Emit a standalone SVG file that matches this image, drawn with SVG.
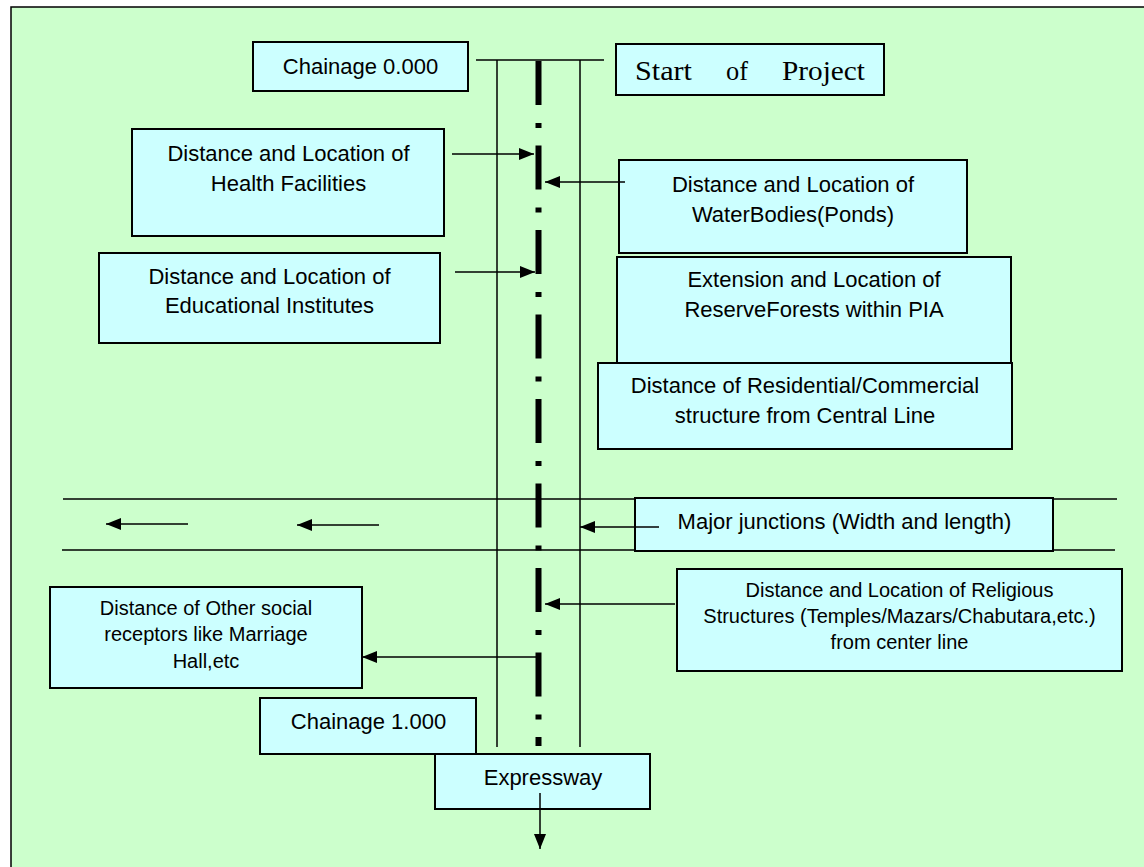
<svg xmlns="http://www.w3.org/2000/svg" width="1144" height="867" viewBox="0 0 1144 867">
<style>
.box{fill:#CCFFFF;stroke:#000;stroke-width:2}
.t{font-family:"Liberation Sans",Arial,sans-serif;font-size:22px;fill:#000;text-anchor:middle}
.s{font-size:20px}
.ln{stroke:#000;stroke-width:1.5;fill:none}
.ar{stroke:#000;stroke-width:1.5;fill:none;marker-end:url(#ah)}
.serif{font-family:"Liberation Serif","Times New Roman",serif;font-size:27px;fill:#000}
</style>
<defs>
<marker id="ah" markerUnits="userSpaceOnUse" markerWidth="16" markerHeight="13" refX="15" refY="6" orient="auto">
<path d="M0,0 L15,6 L0,12 z" fill="#000"/>
</marker>
</defs>
<rect x="11" y="7" width="1150" height="880" fill="#CCFFCC" stroke="#000" stroke-width="1.5"/>
<g id="road">
<line class="ln" x1="476" y1="60" x2="604" y2="60"/>
<line class="ln" x1="497" y1="60" x2="497" y2="747"/>
<line class="ln" x1="580" y1="60" x2="580" y2="747"/>
<line class="ln" x1="63" y1="499" x2="1117" y2="499"/>
<line class="ln" x1="62" y1="550" x2="1115" y2="550"/>
<line x1="538.5" y1="61" x2="538.5" y2="746" stroke="#000" stroke-width="6" stroke-dasharray="44 18 5 17.5"/>
</g>
<g id="n-chainage0"><rect class="box" x="253" y="42" width="215" height="49"/><text class="t" x="360.5" y="74">Chainage 0.000</text></g>
<g id="n-start"><rect class="box" x="616" y="44" width="268" height="51"/>
<text class="serif" x="635" y="80" textLength="57" lengthAdjust="spacingAndGlyphs">Start</text>
<text class="serif" x="726" y="80" textLength="22" lengthAdjust="spacingAndGlyphs">of</text>
<text class="serif" x="782" y="80" textLength="83" lengthAdjust="spacingAndGlyphs">Project</text></g>
<g id="n-health"><rect class="box" x="132" y="129" width="312" height="107"/><text class="t" x="288.5" y="161">Distance and Location of</text><text class="t" x="288.5" y="191">Health Facilities</text></g>
<g id="n-water"><rect class="box" x="619" y="160" width="348" height="93"/><text class="t" x="793" y="192">Distance and Location of</text><text class="t" x="793" y="222">WaterBodies(Ponds)</text></g>
<g id="n-edu"><rect class="box" x="99" y="253" width="341" height="90"/><text class="t" x="269.5" y="284">Distance and Location of</text><text class="t" x="269.5" y="313">Educational Institutes</text></g>
<g id="n-forest"><rect class="box" x="617" y="257" width="394" height="106"/><text class="t" x="814" y="287">Extension and Location of</text><text class="t" x="814" y="317">ReserveForests within PIA</text></g>
<g id="n-residential"><rect class="box" x="598" y="363" width="414" height="86"/><text class="t" x="805" y="393">Distance of Residential/Commercial</text><text class="t" x="805" y="423">structure from Central Line</text></g>
<g id="n-junction"><rect class="box" x="635" y="498" width="418" height="53"/><text class="t" x="844.5" y="529">Major junctions (Width and length)</text></g>
<g id="n-religious"><rect class="box" x="677" y="569" width="445" height="102"/><text class="t s" x="899.5" y="597">Distance and Location of Religious</text><text class="t s" x="899.5" y="623">Structures (Temples/Mazars/Chabutara,etc.)</text><text class="t s" x="899.5" y="649">from center line</text></g>
<g id="n-social"><rect class="box" x="50" y="587" width="312" height="101"/><text class="t s" x="206" y="615">Distance of Other social</text><text class="t s" x="206" y="641">receptors like Marriage</text><text class="t s" x="206" y="668">Hall,etc</text></g>
<g id="n-chainage1"><rect class="box" x="260" y="698" width="216" height="56"/><text class="t" x="368.5" y="729">Chainage 1.000</text></g>
<g id="n-expressway"><rect class="box" x="435" y="754" width="215" height="55"/><text class="t" x="543" y="785">Expressway</text></g>
<g id="connectors">
<line class="ar" x1="452" y1="154" x2="534" y2="154"/>
<line class="ar" x1="455" y1="272" x2="535" y2="272"/>
<line class="ar" x1="625" y1="182" x2="545" y2="182"/>
<line class="ar" x1="659" y1="527" x2="580" y2="527"/>
<line class="ar" x1="675" y1="604" x2="545" y2="604"/>
<line class="ar" x1="539" y1="657" x2="362" y2="657"/>
<line class="ar" x1="188" y1="524" x2="106" y2="524"/>
<line class="ar" x1="379" y1="525" x2="297" y2="525"/>
<line class="ar" x1="540" y1="793" x2="540" y2="849"/>
</g>
</svg>
